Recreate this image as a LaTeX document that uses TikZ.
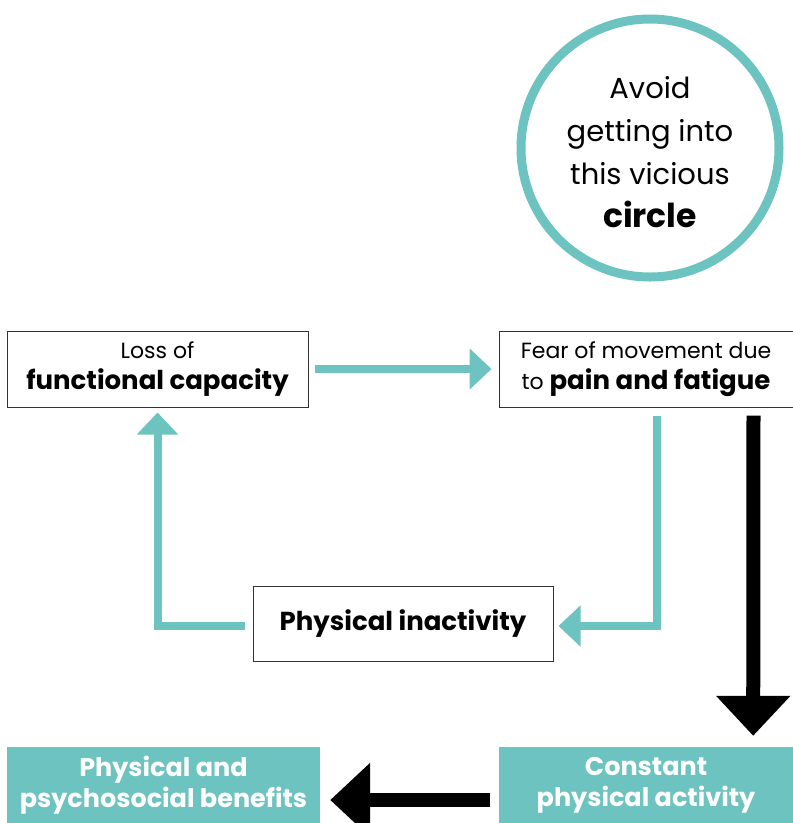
\documentclass[tikz,border=0pt]{standalone}
\usepackage{fontspec}
\setmainfont{Poppins}
\usetikzlibrary{arrows.meta,positioning,calc}
\definecolor{victeal}{RGB}{109,195,192}
\newcommand\boldtext[1]{{\fontsize{26}{31}\selectfont\bfseries #1}}

\begin{document}
\begin{tikzpicture}[x=1pt,y=-1pt,
    box/.style={draw=black!80, line width=1pt, align=center, minimum height=76pt, inner sep=0pt,
        font=\fontsize{22}{31}\selectfont},
    fillbox/.style={fill=victeal, text=white, align=center, minimum height=76pt, inner sep=0pt,
        font=\fontsize{25.5}{31}\selectfont\bfseries},
    loop/.style={victeal, line width=8pt, -{Triangle[length=22pt,width=40pt]}},
    exit/.style={black, line width=14pt, -{Triangle[length=40pt,width=72pt]}}]
    \useasboundingbox (0,0) rectangle (793,823);

    % Warning circle
    \draw[victeal, line width=9pt] (650,148) circle[radius=129];
    \node[align=center, inner sep=0pt, font=\fontsize{29}{43}\selectfont] (warn) at (650,152)
        {Avoid\\getting into\\this vicious\\{\fontsize{33}{43}\selectfont\bfseries circle}};

    % Vicious circle
    \node[box, minimum width=301pt] (loss) at (157.5,369) {Loss of\\\boldtext{functional capacity}};
    \node[box, minimum width=294pt] (fear) at (646,369) {Fear of movement due\\to \boldtext{pain and fatigue}};
    \node[box, minimum width=300pt, minimum height=75pt] (inactive) at (403,623.5) {\boldtext{Physical inactivity}};

    \draw[loop] ($(loss.east)+(6,0)$) -- ($(fear.west)+(-7,0)$);
    \draw[loop] ($(fear.south)+(11,8)$) |- ($(inactive.east)+(5,2.5)$);
    \draw[loop] ($(inactive.west)+(-8,2.5)$) -| ($(loss.south)+(0,5)$);

    % Way out
    \node[fillbox, minimum width=313pt] (benefit) at (163.5,785) {Physical and\\psychosocial benefits};
    \node[fillbox, minimum width=294pt] (active) at (646,785) {Constant\\physical activity};

    \draw[exit] ($(fear.south east)+(-40,8)$) -- ($(active.north east)+(-40,-11)$);
    \draw[exit] ($(active.west)+(-9,15)$) -- ($(benefit.east)+(10,15)$);
\end{tikzpicture}
\end{document}
